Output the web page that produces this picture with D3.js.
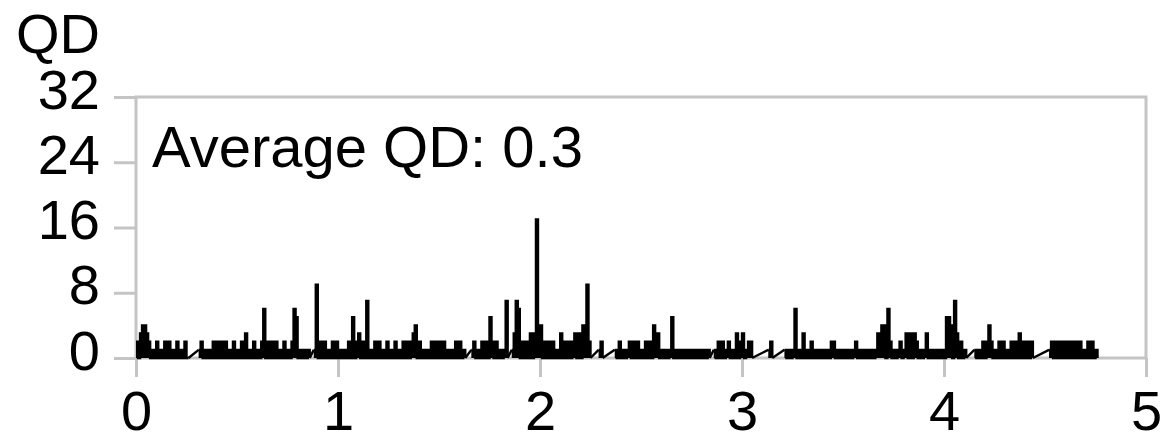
<!DOCTYPE html>
<html>
<head>
<meta charset="utf-8">
<script src="https://cdn.jsdelivr.net/npm/d3@7"></script>
<style>
body { margin: 0; background: #fff; }
text { font-family: "Liberation Sans", Arial, Helvetica, sans-serif; }
</style>
</head>
<body>
<svg id="chart" width="1167" height="437"></svg>
<script>
var xTicks = [0, 1, 2, 3, 4, 5];
var yTicks = [0, 8, 16, 24, 32];
var yLabel = "QD";
var avgLabel = "Average QD: 0.3";

// QD samples, one every 0.01 on the x axis, one array per unit of x; null = no sample
var dt = 0.01;
var qd0 = [2,0,3,4,4,3, 2,0,1,0,2,0, 1,0,2,0,2,0, 1,0,2,0,1,0, 2,0,0,
	null,null,null,null,
	1,2,0,1,0,1,0, 2,0,2,0,2,0, 2,0,1,0,2,0, 1,0,2,0,3,0, 1,0,2,0,1,0,
	2,6,0,2, 0,2,0,2,0,1,0,2,0,1,0,2,6,5, 0,1,0,1,0,1,0,
	null,
	1,9,0,2,0,2,0,1,0,2,0,2];
var qd1 = [0,1,0,1,0,2,0,5,0,2,3,0,2,0,7,0,1,0,
	2,0,2,0,1,0,2,0,1,0,2,0,1,0,2,0,2,0,
	2,3,4,0,2,0,1,0,1,0,2,0,2,0,2,0,2,0,
	1,0,1,0,2,0,2,0,1,0,
	null,null,
	1,2,0,1,0,2,0,2,0,5,2,0,2,0,1,0,1,7,0,
	null,
	1,3,7,6,0,2,0,2,0,3,0,3,17,4];
var qd2 = [4,0,2,0,2,0,2,0,1,0,3,0,2,0,2,0,2,3,0,3,0,4,3,9,2,0,
	null,null,null,
	1,2,0,
	null,null,null,null,null,
	1,0,2,0,1,0,1,2,0,2,0,2,0,1,0,2,0,2,0,
	4,2,3,0,1,0,1,0,1,5,0,1,0,1,0,1,0,1,0,
	1,0,1,0,1,0,1,0,1,0,
	null,
	1,0,2,0,2,0,1,2,0,1,0,3,0,2];
var qd3 = [3,0,1,2,2,0,
	null,null,null,null,null,null,null,
	1,2,0,
	null,null,null,null,null,
	1,0,1,0,1,6,0,1,0,3,0,1,0,2,0,1,0,1,0,1,0,1,0,
	2,2,0,1,0,1,0,1,0,1,0,1,2,0,1,0,1,0,1,0,1,0,1,
	3,3,4,4,0,6,2,0,1,0,1,2,0,1,3,0,3,0,3,2,0,1,0,1,3,0,1,0,1,0,1,0,1];
var qd4 = [0,5,5,4,0,7,3,0,2,0,1,0,
	null,null,null,
	1,0,1,0,2,0,2,4,2,0,1,0,2,0,2,0,1,0,2,0,2,0,3,0,2,0,2,0,2,0,
	null,null,null,null,null,null,null,
	1,2,0,2,0,2,0,2,0,2,0,2,0,2,0,2,0,1,0,2,0,2,0,1,0];

var gray = "#c4c4c4";
var svg = d3.select('#chart');

var x = d3.scaleLinear().domain([0, 5]).range([136, 1146]);
var y = d3.scaleLinear().domain([0, 32]).range([358, 97]);

// plot frame
svg.append("rect")
	.attr("x", x(0))
	.attr("y", y(32))
	.attr("width", x(5) - x(0))
	.attr("height", y(0) - y(32))
	.attr("fill", "none")
	.attr("stroke", gray)
	.attr("stroke-width", 3);

var yAxis = svg.append("g")
	.attr("transform", "translate(" + x(0) + ",0)")
	.call(d3.axisLeft(y).tickValues(yTicks).tickSize(22).tickPadding(14));
var xAxis = svg.append("g")
	.attr("transform", "translate(0," + y(0) + ")")
	.call(d3.axisBottom(x).tickValues(xTicks).tickFormat(d3.format("d")).tickSize(19).tickPadding(13));

[yAxis, xAxis].forEach(function(g){
	g.attr("font-size", 56).attr("font-family", "'Liberation Sans', Arial, sans-serif");
	g.select(".domain").remove();
	g.selectAll("line").attr("stroke", gray).attr("stroke-width", 3);
	g.selectAll("text").attr("fill", "#000");
});
yAxis.selectAll("text").attr("dy", "0.2em");

svg.append("text")
	.attr("x", 100)
	.attr("y", 53)
	.attr("text-anchor", "end")
	.attr("font-size", 56)
	.text(yLabel);

svg.append("text")
	.attr("x", 152)
	.attr("y", 167)
	.attr("font-size", 58)
	.text(avgLabel);

// split the samples into runs of consecutive values
var runs = [], cur = [];
[qd0, qd1, qd2, qd3, qd4].forEach(function(arr, u){
	arr.forEach(function(v, k){
		if (v === null) {
			if (cur.length) runs.push(cur);
			cur = [];
		} else {
			cur.push([u + k * dt, v]);
		}
	});
});
if (cur.length) runs.push(cur);

var stepLine = d3.line()
	.x(function(d){ return x(d[0]); })
	.y(function(d){ return y(d[1]); })
	.curve(d3.curveStepAfter);
var stepArea = d3.area()
	.x(function(d){ return x(d[0]); })
	.y0(y(0))
	.y1(function(d){ return y(d[1]); })
	.curve(d3.curveStepAfter);
var straight = d3.line()
	.x(function(d){ return x(d[0]); })
	.y(function(d){ return y(d[1]); });

var links = [];
for (var r = 1; r < runs.length; r++) {
	links.push([runs[r - 1][runs[r - 1].length - 1], runs[r][0]]);
}

var plot = svg.append("g");

// the trace is so dense that it reads as a solid fill down to zero
plot.selectAll("path.fill")
	.data(runs)
	.enter()
	.append("path")
	.attr("class", "fill")
	.attr("fill", "#000")
	.attr("d", stepArea);

plot.selectAll("path.link")
	.data(links)
	.enter()
	.append("path")
	.attr("class", "link")
	.attr("fill", "none")
	.attr("stroke", "#000")
	.attr("stroke-width", 2.4)
	.attr("d", straight);

plot.selectAll("path.run")
	.data(runs)
	.enter()
	.append("path")
	.attr("class", "run")
	.attr("fill", "none")
	.attr("stroke", "#000")
	.attr("stroke-width", 2.4)
	.attr("d", stepLine);
</script>
</body>
</html>
